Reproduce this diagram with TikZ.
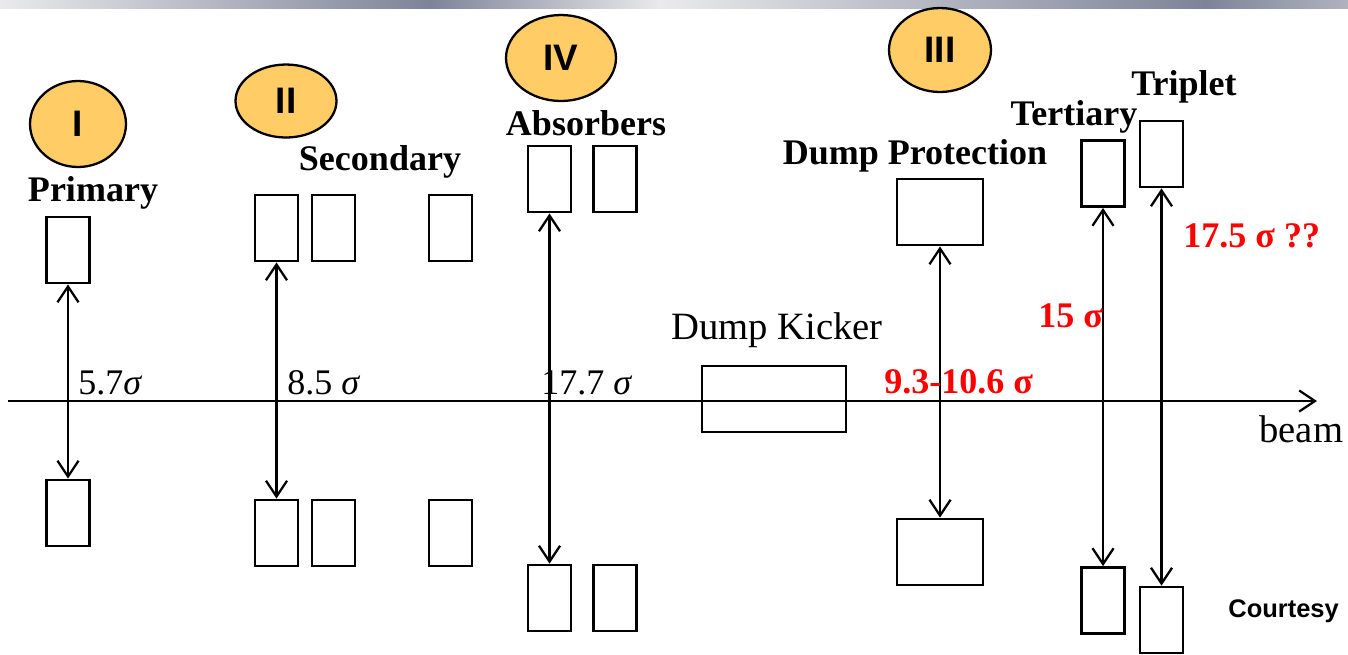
\documentclass[tikz,border=0pt]{standalone}
\usepackage{fontspec}
\setmainfont{Liberation Serif}
\newfontfamily\tagfont{Liberation Sans}
\usetikzlibrary{arrows.meta,shapes.geometric}
\definecolor{tagfill}{HTML}{FFCC66}
\definecolor{barlight}{RGB}{234,234,236}
\definecolor{bardark}{RGB}{126,132,152}
\definecolor{barmid}{RGB}{176,179,190}

\begin{document}
\begin{tikzpicture}[x=0.02cm, y=-0.02cm,
  mag/.style={draw, line width=1.6pt, inner sep=0pt, minimum width=0.86cm, minimum height=1.32cm},
  tag/.style={draw, line width=1.3pt, ellipse, fill=tagfill, inner sep=0pt, font=\tagfont\bfseries\fontsize{21}{24}\selectfont},
  lbl/.style={inner sep=0pt, anchor=base, font=\bfseries\fontsize{20.5}{24}\selectfont},
  sig/.style={inner sep=0pt, anchor=base west, font=\fontsize{20.5}{24}\selectfont},
  rsig/.style={sig, text=red, font=\bfseries\fontsize{20.5}{24}\selectfont},
  gap/.style={line width=1.3pt, {Straight Barb[length=9pt,width=12pt]}-{Straight Barb[length=9pt,width=12pt]}}]
  \useasboundingbox (0,0) rectangle (1348,654);
  % slide bar
  \shade[left color=barlight, right color=bardark] (0,0) rectangle (430,8);
  \shade[left color=bardark, right color=barlight] (430,0) rectangle (660,8);
  \shade[left color=barlight, right color=bardark] (660,0) rectangle (1205,8);
  \shade[left color=bardark, right color=barmid] (1205,0) rectangle (1348,8);
  % beam axis
  \coordinate (bmL) at (8,401);
  \coordinate (bmR) at (1317,401);
  \draw[line width=1.3pt, -{Straight Barb[length=9pt,width=12pt]}] (bmL) -- (bmR);
  \node[sig, font=\fontsize{22}{26}\selectfont] (beam) at (1259,442) {beam};
  % primary
  \node[tag, minimum width=1.92cm, minimum height=1.72cm] (t1) at (78,124) {I};
  \node[lbl] (prim) at (93,201) {Primary};
  \node[mag] (pU) at (68,250) {};
  \node[mag] (pL) at (68,513) {};
  \draw[gap] (pU.south) -- (pL.north);
  \node[sig] (g1) at (78,394) {5.7\textit{σ}};
  % secondary
  \node[tag, minimum width=2.02cm, minimum height=1.46cm] (t2) at (286,101) {II};
  \node[lbl] (sec) at (380,170) {Secondary};
  \node[mag] (s1U) at (276.5,228) {};
  \node[mag] (s2U) at (333.5,228) {};
  \node[mag] (s3U) at (450.5,228) {};
  \node[mag] (s1L) at (276.5,533) {};
  \node[mag] (s2L) at (333.5,533) {};
  \node[mag] (s3L) at (450.5,533) {};
  \draw[gap] (s1U.south) -- (s1L.north);
  \node[sig] (g2) at (287,394) {8.5 \textit{σ}};
  % absorbers
  \node[tag, minimum width=2.2cm, minimum height=1.72cm] (t4) at (561,58) {IV};
  \node[lbl] (abs) at (586,135) {Absorbers};
  \node[mag] (a1U) at (549.5,179) {};
  \node[mag] (a2U) at (615,179) {};
  \node[mag] (a1L) at (549.5,598) {};
  \node[mag] (a2L) at (615,598) {};
  \draw[gap] (a1U.south) -- (a1L.north);
  \node[sig] (g3) at (541,394) {17.7 \textit{σ}};
  % dump kicker
  \node[lbl, font=\fontsize{22}{26}\selectfont] (kname) at (777,339) {Dump Kicker};
  \node[mag, minimum width=2.88cm] (kick) at (774,399) {};
  % dump protection
  \node[tag, minimum width=2.04cm, minimum height=1.68cm] (t3) at (940,50) {III};
  \node[lbl] (dprot) at (915,164) {Dump Protection};
  \node[mag, minimum width=1.72cm] (dU) at (940,212) {};
  \node[mag, minimum width=1.72cm] (dL) at (940,552) {};
  \draw[gap] (dU.south) -- (dL.north);
  \node[rsig] (g4) at (884,393) {9.3-10.6 σ};
  % tertiary and triplet
  \node[lbl] (tert) at (1074,125) {Tertiary};
  \node[mag] (tU) at (1103,173.5) {};
  \node[mag] (tL) at (1103,600.5) {};
  \draw[gap] (tU.south) -- (tL.north);
  \node[rsig] (g5) at (1038,327) {15 σ};
  \node[lbl] (trip) at (1184,95) {Triplet};
  \node[mag] (qU) at (1161.5,154) {};
  \node[mag] (qL) at (1161.5,620) {};
  \draw[gap] (qU.south) -- (qL.north);
  \node[rsig] (g6) at (1183,247) {17.5 σ ??};
  \node[sig, font=\tagfont\bfseries\fontsize{14.5}{17}\selectfont] (court) at (1228,617) {Courtesy};
\end{tikzpicture}
\end{document}
